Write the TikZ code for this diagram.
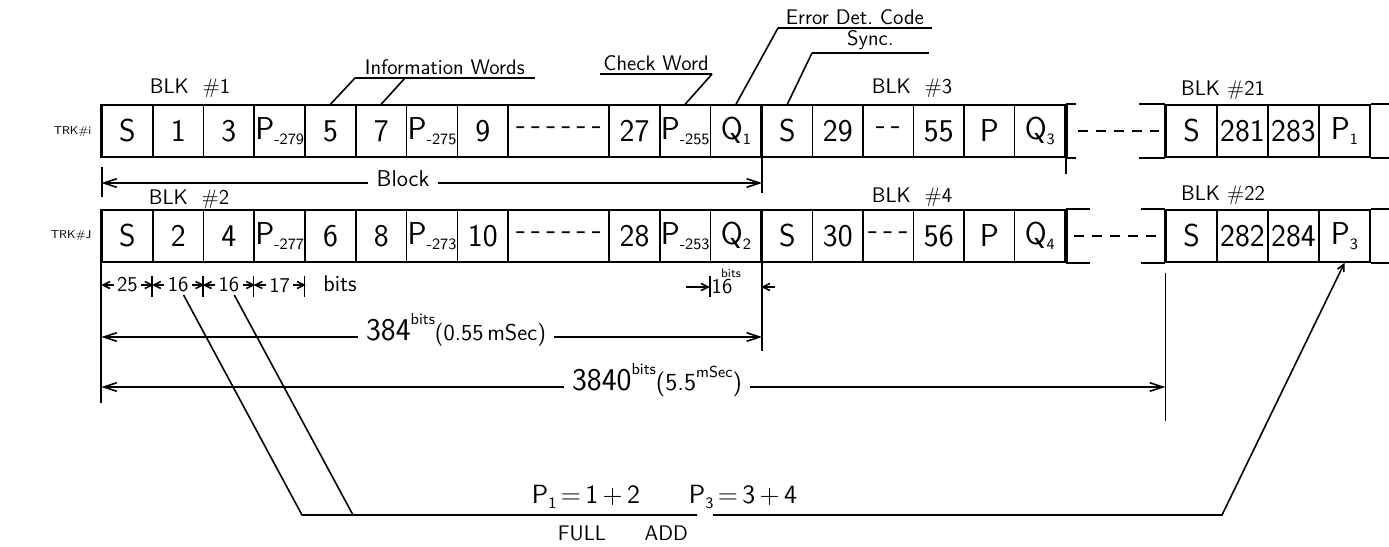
\documentclass[tikz,border=0pt]{standalone}
\usepackage{fontspec}
\renewcommand{\familydefault}{\sfdefault}
\usepackage{tikz}
\usetikzlibrary{arrows.meta, calc}
\newcommand{\cellsize}{\fontsize{18}{20}\selectfont}
\newcommand{\tagsize}{\fontsize{12}{14}\selectfont}
\newcommand{\blksize}{\fontsize{12}{14}\selectfont}
\newcommand{\trksize}{\fontsize{6.5}{8}\selectfont}
\newcommand{\bitsize}{\fontsize{12}{14}\selectfont}
\newcommand{\psub}[1]{\raisebox{-0.4ex}{\fontsize{9}{9}\selectfont #1}}
\newcommand{\psup}[1]{\raisebox{1.2ex}{\fontsize{9}{9}\selectfont #1}}
\tikzset{
  cell/.style={draw, minimum width=10.15mm, minimum height=10.4mm, inner sep=0pt, font=\cellsize},
  widecell/.style={cell, minimum width=20.3mm},
  heavy/.style={line width=1.8pt},
  gapdash/.style={dash pattern=on 2mm off 1.6mm},
  ulabel/.style={font=\tagsize, anchor=south west, inner sep=1.5pt},
  blklabel/.style={font=\blksize},
  dimlbl/.style={anchor=mid, inner xsep=1.5mm, inner ysep=0pt},
  bitlbl/.style={font=\bitsize, inner xsep=1.5pt, inner ysep=1pt},
  smallarr/.style={-{Straight Barb[length=1.4mm,width=1.4mm]}},
}

\begin{document}
\begin{tikzpicture}[x=0.2mm, y=-0.2mm, line width=0.9pt, >={Straight Barb[length=2.6mm,width=1.7mm]}]
  \useasboundingbox (0,0) rectangle (1389,546);

  % ---------- track i ----------
  \foreach \n/\x/\lbl in {i1/127.4/S, i2/178.2/1, i3/228.9/3, i4/279.7/{P\psub{-279}},
      i5/330.5/5, i6/381.2/7, i7/432.0/{P\psub{-275}}, i8/482.8/9,
      i10/634.5/27, i11/685.2/{P\psub{-255}}, i12/736.0/{Q\psub{1}},
      i13/787.3/S, i14/837.8/29, i15/888.3/{-\,-}, i16/938.8/55, i17/989.3/P, i18/1039.8/{Q\psub{3}},
      i19/1191.5/S, i20/1242.5/281, i21/1293.5/283, i22/1344.5/{P\psub{1}}}
    \node[cell] (\n) at (\x,131) {\lbl};
  \node[widecell] (i9) at (558.9,131) {-\,-\,-\,-\,-\,-};

  % ---------- track j ----------
  \foreach \n/\x/\lbl in {j1/127.4/S, j2/178.2/2, j3/228.9/4, j4/279.7/{P\psub{-277}},
      j5/330.5/6, j6/381.2/8, j7/432.0/{P\psub{-273}}, j8/482.8/10,
      j10/634.5/28, j11/685.2/{P\psub{-253}}, j12/736.0/{Q\psub{2}},
      j13/787.3/S, j14/837.8/30, j15/888.3/{-\,-\,-}, j16/938.8/56, j17/989.3/P, j18/1039.8/{Q\psub{4}},
      j19/1191.5/S, j20/1242.5/282, j21/1293.5/284, j22/1344.5/{P\psub{3}}}
    \node[cell] (\n) at (\x,236) {\lbl};
  \node[widecell] (j9) at (558.9,236) {-\,-\,-\,-\,-\,-};

  % block borders and open ends
  \foreach \trk in {i,j} {
    \draw[heavy] (\trk1.north west) -- (\trk1.south west);
    \draw[heavy] (\trk13.north west) -- (\trk13.south west);
    \draw[heavy] (\trk18.north east) -- (\trk18.south east);
    \draw[heavy] (\trk19.north west) -- (\trk19.south west);
    \draw (\trk22.north east) -- ++(19,0);
    \draw (\trk22.south east) -- ++(19,0);
  }
  \draw (i18.north east) -- ++(10,0);  \draw (i18.south east) -- ++(10,0);
  \draw (i19.north west) -- ++(-26,0); \draw (i19.south west) -- ++(-26,0);
  \draw (j18.north east) -- ++(24,0);  \draw (j18.south east) -- ++(24,0);
  \draw (j19.north west) -- ++(-24,0); \draw (j19.south west) -- ++(-24,0);
  \draw[gapdash] ($(i18.east)+(12,0)$) -- ($(i19.west)+(-6,0)$);
  \draw[gapdash] ($(j18.east)+(8,0)$) -- ($(j19.west)+(-6,0)$);

  % track and block labels
  \node[font=\trksize, anchor=east] (trki) at (98,132) {TRK\#i};
  \node[font=\trksize, anchor=east] (trkj) at (98,236) {TRK\#J};
  \node[blklabel] (blk1) at (190,88) {BLK\ \ \#1};
  \node[blklabel] (blk2) at (189,199) {BLK\ \ \#2};
  \node[blklabel] (blk3) at (912,88) {BLK\ \ \#3};
  \node[blklabel] (blk4) at (912,197) {BLK\ \ \#4};
  \node[blklabel] (blk21) at (1223,90) {BLK\ \#21};
  \node[blklabel] (blk22) at (1223,195) {BLK\ \#22};

  % ---------- word callouts ----------
  \node[ulabel, minimum width=35.6mm] (infow) at (355,78) {Information Words};
  \node[ulabel, minimum width=20.4mm] (chkw) at (600,74) {Check Word};
  \node[ulabel, minimum width=30.4mm] (errc) at (778,28) {Error Det.\ Code};
  \node[ulabel, minimum width=23mm] (sync) at (812,53) {Sync.};
  \draw (infow.south west) -- (infow.south east);
  \draw (chkw.south west) -- (chkw.south east);
  \draw (errc.south west) -- (errc.south east);
  \draw (sync.south west) -- (sync.south east);
  \draw (i5.north) -- (infow.south west);
  \draw (i6.north) -- ($(infow.south west)+(50,0)$);
  \draw (i11.north) -- (chkw.south east);
  \draw (i12.north) -- (errc.south west);
  \draw (i13.north) -- (sync.south west);

  % ---------- block length ----------
  \draw (102,167) -- (102,197);
  \draw (i12.south east) -- ++(0,35);
  \draw (i18.south east) -- ++(0,16);
  \node[dimlbl, font=\fontsize{13}{15}\selectfont] (blklbl) at (403,183) {Block};
  \draw[->] (blklbl.mid west) -- (blklbl.mid west -| i1.west);
  \draw[->] (blklbl.mid east) -- (blklbl.mid east -| i12.east);

  % ---------- bit counts ----------
  \draw (j1.south west) -- ++(0,140);
  \draw (j12.south east) -- ++(0,88);
  \draw (j19.south west) ++(0,10) -- ++(0,148);
  \foreach \c in {2,3,4,5,12}
    \draw (j\c.south west) ++(0,13) -- ++(0,21);
  \node[bitlbl] (b25) at (127.4,285) {25};
  \node[bitlbl] (b16a) at (178.2,285) {16};
  \node[bitlbl] (b16b) at (228.9,285) {16};
  \node[bitlbl] (b17) at (279.7,285) {17};
  \node[bitlbl, font=\fontsize{13}{15}\selectfont] (bits) at (340,284) {bits};
  \draw[smallarr] (b25) -- (b25 -| j1.west);   \draw[smallarr] (b25) -- (b25 -| j1.east);
  \draw[smallarr] (b16a) -- (b16a -| j2.west); \draw[smallarr] (b16a) -- (b16a -| j2.east);
  \draw[smallarr] (b16b) -- (b16b -| j3.west); \draw[smallarr] (b16b) -- (b16b -| j3.east);
  \draw[smallarr] (b17) -- (b17 -| j4.west);   \draw[smallarr] (b17) -- (b17 -| j4.east);
  \node[bitlbl] (b16q) at (722,287) {16};
  \node[font=\fontsize{7}{8}\selectfont, inner sep=0pt] (b16qbits) at (731,273) {bits};
  \draw[smallarr] (j12.south west |- b16q) ++(-24,0) -- ++(24,0);
  \draw[smallarr] (j13.south west |- b16q) ++(14,0) -- ++(-14,0);

  % ---------- 384 and 3840 ----------
  \node[dimlbl, font=\fontsize{18}{20}\selectfont] (d384) at (456,337)
    {384\psup{bits}\fontsize{13}{15}\selectfont(0.55\,mSec)};
  \draw[->] (d384.mid west) -- (d384.mid west -| j1.west);
  \draw[->] (d384.mid east) -- (d384.mid east -| j12.east);
  \node[dimlbl, font=\fontsize{18}{20}\selectfont] (d3840) at (657,387)
    {3840\psup{bits}\fontsize{14}{16}\selectfont(5.5\psup{mSec})};
  \draw[->] (d3840.mid west) -- (d3840.mid west -| j1.west);
  \draw[->] (d3840.mid east) -- (d3840.mid east -| j19.west);

  % ---------- full add ----------
  \node[anchor=mid, font=\fontsize{15}{17}\selectfont] (p1eq) at (586,500) {P\psub{1}\,=\,1\,+\,2};
  \node[anchor=mid, font=\fontsize{15}{17}\selectfont] (p3eq) at (743,500) {P\psub{3}\,=\,3\,+\,4};
  \node[font=\fontsize{12}{14}\selectfont] (fadd) at (623,533) {FULL\hspace{22pt}ADD};
  \coordinate (busA) at (302,515);
  \coordinate (busB) at (353,515);
  \coordinate (busC) at (697,515);
  \coordinate (busD) at (713,515);
  \coordinate (busE) at (1222,515);
  \draw (b16a) -- (busA) -- (busC);
  \draw (b16b) -- (busB);
  \draw[smallarr] (busD) -- (busE) -- (j22.south);

\end{tikzpicture}
\end{document}
